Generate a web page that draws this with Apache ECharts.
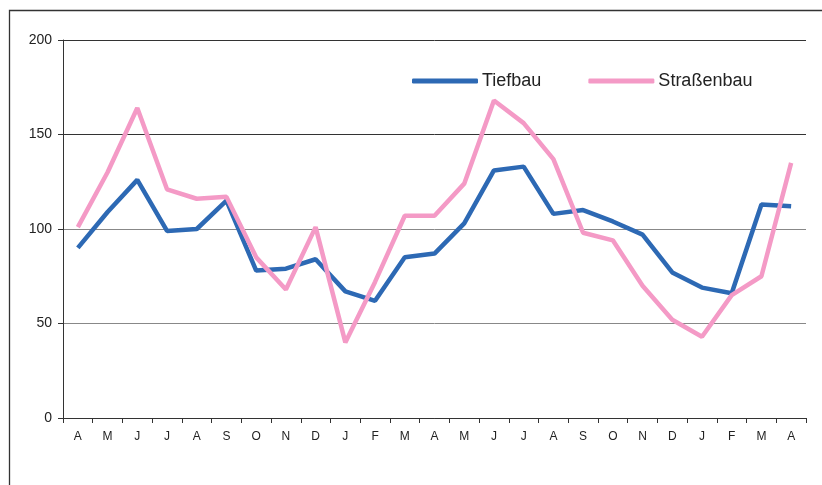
<!DOCTYPE html>
<html><head><meta charset="utf-8">
<script src="https://cdn.jsdelivr.net/npm/echarts@6/dist/echarts.min.js"></script>
<style>html,body{margin:0;padding:0;background:#fff}#c{width:822px;height:485px}</style>
</head><body><div id="c"></div>
<script>
const categories = ['A','M','J','J','A','S','O','N','D','J','F','M','A','M','J','J','A','S','O','N','D','J','F','M','A'];
const tiefbau = [90,109,126,99,100,115,78,79,84,67,62,85,87,103,131,133,108,110,104,97,77,69,66,113,112];
const strassenbau = [101,130,164,121,116,117,85,68,101,40,72,107,107,124,168,156,137,98,94,70,52,43,65,75,135];
const yTicks = [0,50,100,150,200];

const chart = echarts.init(document.getElementById('c'), null, {renderer:'canvas'});
chart.setOption({
  animation:false,
  backgroundColor:'#fff',
  graphic:[{type:'rect',shape:{x:9.5,y:10.5,width:900,height:600},style:{fill:'none',stroke:'#333',lineWidth:1.3},silent:true}],
  legend:{
    left:412, top:72, padding:0, itemWidth:66, itemHeight:5, itemGap:47, icon:'roundRect',
    textStyle:{fontFamily:'Liberation Sans, Arial', fontSize:18, color:'#222', padding:[0,0,0,-1]},
    data:['Tiefbau','Straßenbau']
  },
  grid:{left:63, right:16, top:40, bottom:67, containLabel:false},
  xAxis:{
    type:'category', data:categories, boundaryGap:true,
    axisLine:{lineStyle:{color:'#333',width:1}},
    axisTick:{show:true,length:5,lineStyle:{color:'#333'}},
    axisLabel:{color:'#222',fontSize:12,fontFamily:'Liberation Sans, Arial',margin:13}
  },
  yAxis:{
    type:'value', min:0, max:200, interval:50,
    axisLine:{show:true,lineStyle:{color:'#333'}},
    axisTick:{show:true,length:5,lineStyle:{color:'#333'}},
    axisLabel:{color:'#222',fontSize:14,fontFamily:'Liberation Sans, Arial',margin:11,formatter:v=>yTicks.includes(v)?String(v):''},
    splitLine:{show:true,lineStyle:{color:['#333','#888','#888','#333','#333'],width:1}}
  },
  series:[
    {name:'Tiefbau',type:'line',data:tiefbau,showSymbol:false,symbol:'none',
     lineStyle:{color:'#2d69b4',width:4.5},itemStyle:{color:'#2d69b4'}},
    {name:'Straßenbau',type:'line',data:strassenbau,showSymbol:false,symbol:'none',
     lineStyle:{color:'#f49ac6',width:4.5},itemStyle:{color:'#f49ac6'}}
  ]
});
</script></body></html>
